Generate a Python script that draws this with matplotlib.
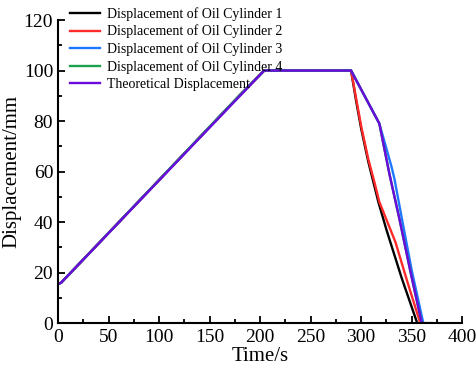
import matplotlib.pyplot as plt
from matplotlib.ticker import MultipleLocator

plt.rcParams['font.family'] = ['Liberation Serif', 'DejaVu Serif']

# time (s) / displacement (mm) samples for each cylinder
t_cyl1 = [0, 3, 90, 180, 204, 290, 295, 300, 307, 312, 317, 325, 340, 355.5]
d_cyl1 = [15.5, 16, 52.5, 90.3, 100, 100, 88, 77, 64, 56, 48, 37, 18, 0]

t_cyl2 = [0, 3, 90, 180, 204, 290, 295, 300, 307, 313, 318, 326, 334, 346, 358.5]
d_cyl2 = [15.5, 16, 52.5, 90.3, 100, 100, 89, 78, 65, 56, 48, 40, 32, 16, 0]

t_cyl3 = [0, 3, 90, 180, 204, 290, 318, 330, 333, 340, 350, 361.5]
d_cyl3 = [15.5, 16, 52.5, 90.3, 100, 100, 79, 62, 57, 42, 21, 0]

t_cyl4 = [0, 3, 90, 180, 204, 290, 318, 328, 338, 349, 360, 370]
d_cyl4 = [15.5, 16, 52.5, 90.3, 100, 100, 79, 59, 41, 20, 0, 0]

t_theory = [0, 3, 204, 290, 318, 328, 338, 349, 360, 370]
d_theory = [15.5, 16, 100, 100, 79, 59, 41, 20, 0, 0]

fig = plt.figure(figsize=(4.76, 3.71), dpi=100)
ax = fig.add_axes([0.122, 0.129, 0.849, 0.817])

lw = 1.7
ax.plot(t_cyl1, d_cyl1, color='black', lw=lw, label='Displacement of Oil Cylinder 1')
ax.plot(t_cyl2, d_cyl2, color='#ff2a2a', lw=lw, label='Displacement of Oil Cylinder 2')
ax.plot(t_cyl3, d_cyl3, color='#1e78ff', lw=lw, label='Displacement of Oil Cylinder 3')
ax.plot(t_cyl4, d_cyl4, color='#1aa34a', lw=lw, label='Displacement of Oil Cylinder 4')
ax.plot(t_theory, d_theory, color='#6a0adc', lw=lw, label='Theoretical Displacement')

ax.set_xlim(0, 400)
ax.set_ylim(0, 120)
ax.xaxis.set_major_locator(MultipleLocator(50))
ax.xaxis.set_minor_locator(MultipleLocator(25))
ax.yaxis.set_major_locator(MultipleLocator(20))
ax.yaxis.set_minor_locator(MultipleLocator(10))
ax.tick_params(which='both', direction='in', labelsize=14, width=1.3)
ax.tick_params(which='major', length=5)
ax.tick_params(which='minor', length=3)
ax.tick_params(axis='x', pad=4)

for side in ['top', 'right']:
    ax.spines[side].set_visible(False)
for side in ['left', 'bottom']:
    ax.spines[side].set_linewidth(1.5)

ax.set_xlabel('Time/s', fontsize=15, labelpad=1)
ax.set_ylabel('Displacement/mm', fontsize=15, labelpad=2)

ax.legend(loc='upper left', bbox_to_anchor=(0.015, 1.062), frameon=False,
          fontsize=10, handlelength=2.2, handletextpad=0.5,
          labelspacing=0.29, borderaxespad=0)

fig.savefig('out.png', dpi=100)
